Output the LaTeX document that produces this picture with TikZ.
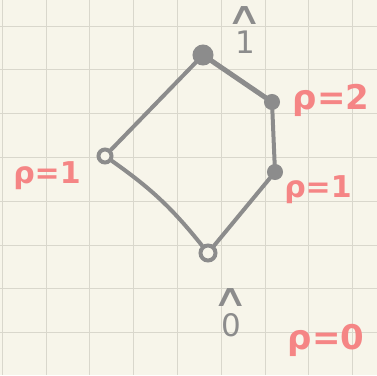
\documentclass[tikz,border=0pt]{standalone}
\usepackage{fontspec}
\setmainfont{DejaVu Sans}
\usepackage{tikz}
\usetikzlibrary{positioning}

\definecolor{paper}{HTML}{F7F5EA}
\definecolor{gridline}{HTML}{D9D7CC}
\definecolor{pencil}{HTML}{8C8C8C}
\definecolor{marker}{HTML}{F58585}

\newcommand{\caret}{\scalebox{1.6}[1.0]{∧}}

\begin{document}
\begin{tikzpicture}[x=1pt, y=-1pt,
  vertex/.style={circle, draw=pencil, fill=pencil, line width=2pt, inner sep=0pt, minimum size=14pt},
  ring/.style={circle, draw=pencil, fill=paper, line width=4pt, inner sep=0pt, minimum size=13pt},
  edge/.style={draw=pencil, line width=4pt, line cap=round},
  rank/.style={text=marker, font=\bfseries\fontsize{34}{34}\selectfont, inner sep=0pt},
  hatlabel/.style={text=pencil, font=\fontsize{31}{20}\selectfont, inner sep=0pt, align=center}]

% paper and grid
\fill[paper] (0,0) rectangle (377,375);
\useasboundingbox (0,0) rectangle (377,375);
\foreach \k in {0,...,8}
  \draw[gridline, line width=0.8pt] (2.2+43.8*\k,0) -- (2.2+43.8*\k,375);
\foreach \k in {0,...,7}
  \draw[gridline, line width=0.8pt] (0,26+43.8*\k) -- (377,26+43.8*\k);

% elements of the lattice
\node[vertex, minimum size=19pt] (top) at (203,55) {};
\node[vertex] (b) at (272,102) {};
\node[vertex] (a) at (275,172) {};
\node[ring] (c) at (105,156) {};
\node[ring, minimum size=15pt] (bot) at (208,253) {};

% covering relations
\draw[edge] (top) -- (c);
\draw[edge, line width=5pt] (top) -- (b);
\draw[edge] (b) -- (a);
\draw[edge] (a) -- (bot);
\draw[edge] (c) to[bend left=8] (bot);

% labels
\node[hatlabel] (one) at (245,30) {\caret\\[6pt]1};
\node[hatlabel] (zero) at (231,313) {\caret\\[6pt]0};
\node[rank] (rb) at (331,100) {ρ=2};
\node[rank, font=\bfseries\fontsize{30}{30}\selectfont] (ra) at (318,190) {ρ=1};
\node[rank, font=\bfseries\fontsize{30}{30}\selectfont] (rc) at (47,176) {ρ=1};
\node[rank] (rbot) at (326,340) {ρ=0};

\end{tikzpicture}
\end{document}
